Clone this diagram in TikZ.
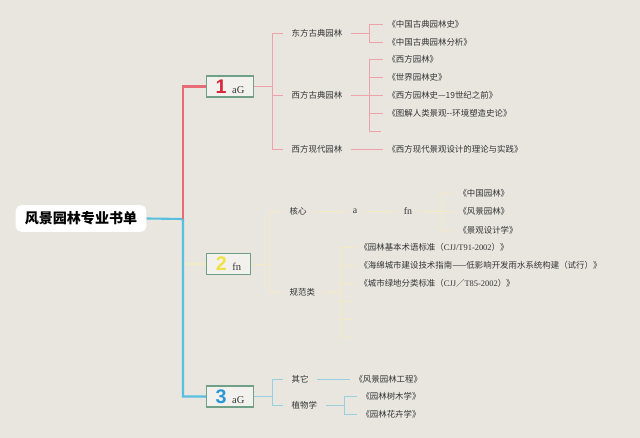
\documentclass[tikz,border=0pt]{standalone}
\usepackage{fontspec}
\setmainfont{Liberation Serif}
\newfontfamily\cjk{Noto Sans CJK SC}
\newfontfamily\numfont{Liberation Sans}
\usepackage{tikz}
\usetikzlibrary{positioning}
\usepackage{xcolor}
\definecolor{paper}{RGB}{233,230,223}
\definecolor{redmain}{RGB}{232,108,120}
\definecolor{redsub}{RGB}{240,162,170}
\definecolor{bluemain}{RGB}{88,192,222}
\definecolor{bluesub}{RGB}{152,208,226}
\definecolor{yellowsub}{RGB}{243,234,196}
\definecolor{boxline}{RGB}{112,160,136}
\definecolor{onered}{RGB}{214,42,58}
\definecolor{twoyellow}{RGB}{240,224,72}
\definecolor{threeblue}{RGB}{42,152,212}
\definecolor{inktext}{RGB}{52,52,52}

\tikzset{
    numbox/.style={draw=boxline, line width=0.9pt, fill=paper!55!white, minimum height=15pt, inner sep=0pt, font=\rmfamily\fontsize{7.5}{8}\selectfont, text=inktext},
    topic/.style={anchor=west, inner xsep=6pt, inner ysep=1pt, font=\cjk\fontsize{6}{7}\selectfont, text=inktext},
    book/.style={anchor=west, inner xsep=3pt, inner ysep=1pt, font=\cjk\fontsize{6}{7}\selectfont, text=inktext},
    word/.style={inner xsep=5pt, font=\rmfamily\fontsize{7}{8}\selectfont, text=inktext},
    mainln/.style={line width=1.5pt},
    subln/.style={line width=0.7pt}
}
\newcommand{\bignum}[2]{{\numfont\bfseries\fontsize{14}{14}\selectfont\color{#1}#2}\hspace{4pt}}

\begin{document}
\begin{tikzpicture}[x=0.025cm, y=-0.025cm]
    \fill[paper] (0,0) rectangle (640,438);
    \useasboundingbox (0,0) rectangle (640,438);

    % root and the three numbered boxes
    \node[fill=white, rounded corners=4pt, minimum width=93pt, minimum height=19pt, font=\cjk\bfseries\fontsize{10}{10}\selectfont] (root) at (81,218.5) {风景园林专业书单};
    \node[numbox, minimum width=33pt] (b1) at (230,86.5) {\bignum{onered}{1}aG};
    \node[numbox, minimum width=31pt] (b2) at (228.5,264) {\bignum{twoyellow}{2}fn};
    \node[numbox, minimum width=33pt] (b3) at (230,396.5) {\bignum{threeblue}{3}aG};

    \coordinate (hub) at (183,219);
    \draw[yellowsub, mainln] (hub |- b2.west) -- (b2.west);
    \draw[bluemain, mainln] (root.east) -- (hub) |- (b3.west);
    \draw[redmain, mainln] (hub) |- (b1.west);

    % 1: classical and modern gardens
    \node[topic] (dfgd) at (283,33) {东方古典园林};
    \node[topic] (xfgd) at (283,95.5) {西方古典园林};
    \node[topic] (xfxd) at (283,149) {西方现代园林};
    \draw[redsub, subln] (b1.east) -- ++(19,0) coordinate (j1);
    \foreach \t in {dfgd,xfgd,xfxd}
        \draw[redsub, subln] (j1) |- (\t.west);

    \node[book] (s11) at (383,24) {《中国古典园林史》};
    \node[book] (s12) at (383,42) {《中国古典园林分析》};
    \coordinate (k1) at (369,33);
    \draw[redsub, subln] (dfgd.east) -- (k1);
    \foreach \t in {s11,s12}
        \draw[redsub, subln] (k1) |- (\t.west);

    \node[book] (s21) at (383,59.5) {《西方园林》};
    \node[book] (s22) at (383,77.5) {《世界园林史》};
    \node[book] (s23) at (383,95.5) {《西方园林史—19世纪之前》};
    \node[book] (s24) at (383,113.5) {《图解人类景观--环境塑造史论》};
    \coordinate (s25) at (381,131);
    \coordinate (k2) at (369,95.5);
    \draw[redsub, subln] (xfgd.east) -- (k2);
    \foreach \t in {s21,s22,s23,s24,s25}
        \draw[redsub, subln] (k2) |- (\t);

    \node[book] (s31) at (383,149) {《西方现代景观设计的理论与实践》};
    \draw[redsub, subln] (xfxd.east) -- (s31.west);

    % 2: core books and standards
    \node[topic] (hx) at (281,211) {核心};
    \node[topic] (gfl) at (281,292) {规范类};
    \draw[yellowsub, subln] (b2.east) -- ++(19,0) coordinate (j2);
    \foreach \t in {hx,gfl}
        \draw[yellowsub, subln] (j2) |- (\t.west);

    \node[word] (ca) at (355,211) {a};
    \node[word] (cfn) at (408,211) {fn};
    \draw[yellowsub, subln] (hx.east) -- (ca.west);
    \draw[yellowsub, subln] (ca.east) -- (cfn.west);
    \node[book] (h1) at (454,193.5) {《中国园林》};
    \node[book] (h2) at (454,211.5) {《风景园林》};
    \node[book] (h3) at (454,230) {《景观设计学》};
    \coordinate (k5) at (441,211);
    \draw[yellowsub, subln] (cfn.east) -- (k5);
    \foreach \t in {h1,h2,h3}
        \draw[yellowsub, subln] (k5) |- (\t.west);

    \node[book] (g1) at (355,247) {《园林基本术语标准（{\rmfamily CJJ/T91-2002}）》};
    \node[book] (g2) at (355,265.5) {《海绵城市建设技术指南——低影响开发雨水系统构建（试行）》};
    \node[book] (g3) at (355,283.5) {《城市绿地分类标准（{\rmfamily CJJ}／{\rmfamily T85-2002}）》};
    \coordinate (g4) at (352,301);
    \coordinate (g5) at (352,319);
    \coordinate (g6) at (352,337);
    \coordinate (k6) at (340,292);
    \draw[yellowsub, subln] (gfl.east) -- (k6);
    \foreach \t in {g1,g2,g3,g4,g5,g6}
        \draw[yellowsub, subln] (k6) |- (\t);

    % 3: other and plants
    \node[topic] (qt) at (283,379) {其它};
    \node[topic] (zwx) at (283,405) {植物学};
    \draw[bluesub, subln] (b3.east) -- ++(19,0) coordinate (j3);
    \foreach \t in {qt,zwx}
        \draw[bluesub, subln] (j3) |- (\t.west);

    \node[book] (p1) at (350,379) {《风景园林工程》};
    \draw[bluesub, subln] (qt.east) -- (p1.west);
    \node[book] (p2) at (357,396) {《园林树木学》};
    \node[book] (p3) at (357,414) {《园林花卉学》};
    \coordinate (k8) at (344,405);
    \draw[bluesub, subln] (zwx.east) -- (k8);
    \foreach \t in {p2,p3}
        \draw[bluesub, subln] (k8) |- (\t.west);
\end{tikzpicture}
\end{document}
